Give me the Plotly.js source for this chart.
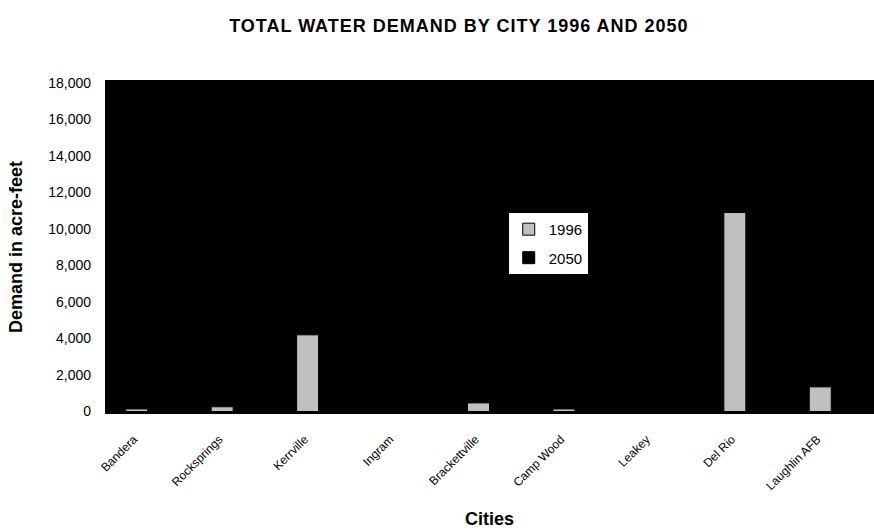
<!DOCTYPE html>
<html>
<head>
<meta charset="utf-8">
<script src="https://cdn.plot.ly/plotly-3.0.1.min.js"></script>
<style>
  html, body { margin: 0; padding: 0; background: #ffffff; }
  #chart { width: 874px; height: 531px; }
  /* slightly tracked-out main title */
  #chart .gtitle { letter-spacing: 1px; }
</style>
</head>
<body>
<div id="chart"></div>
<script>
// Cities along the x axis
var cities = ['Bandera', 'Rocksprings', 'Kerrville', 'Ingram', 'Brackettville',
              'Camp Wood', 'Leakey', 'Del Rio', 'Laughlin AFB'];

// Total water demand, acre-feet
var demand1996 = [140, 260, 4200, 0, 470, 140, 0, 10900, 1350];
// 2050 series: black bars on the black plot area
var demand2050 = [null, null, null, null, null, null, null, null, null];

var seriesNames = ['1996', '2050'];
var yTickValues = [0, 2000, 4000, 6000, 8000, 10000, 12000, 14000, 16000, 18000];

var baseFont = 'Arial, "Liberation Sans", sans-serif';

var traces = [
  {
    type: 'bar',
    name: seriesNames[0],
    x: cities,
    y: demand1996,
    legendgroup: 'a',
    marker: { color: '#c0c0c0', line: { color: '#000000', width: 1 } },
    hoverinfo: 'x+y'
  },
  {
    type: 'bar',
    name: seriesNames[1],
    x: cities,
    y: demand2050,
    legendgroup: 'b',
    marker: { color: '#000000', line: { color: '#000000', width: 1 } },
    hoverinfo: 'x+y'
  }
];

var layout = {
  width: 874,
  height: 531,
  paper_bgcolor: '#ffffff',
  plot_bgcolor: '#000000',
  margin: { l: 105, r: 0, t: 80, b: 117, pad: 0 },
  barmode: 'group',
  bargap: 0.485,
  bargroupgap: 0,
  font: { family: baseFont, color: '#000000', size: 14 },
  title: {
    text: '<b>TOTAL WATER DEMAND BY CITY 1996 AND 2050</b>',
    font: { family: baseFont, size: 18, color: '#000000' },
    x: 0.525, xanchor: 'center',
    y: 0.952, yanchor: 'middle'
  },
  xaxis: {
    type: 'category',
    tickangle: -45,
    tickfont: { family: baseFont, size: 12, color: '#000000' },
    ticklabelstandoff: 15,
    ticklabelshift: -14,
    ticks: '',
    showline: false,
    showgrid: false,
    zeroline: false,
    title: {
      text: '<b>Cities</b>',
      font: { family: baseFont, size: 18, color: '#000000' },
      standoff: 20
    }
  },
  yaxis: {
    range: [-137, 18164],
    tickvals: yTickValues,
    tickformat: ',d',
    tickfont: { family: baseFont, size: 14, color: '#000000' },
    ticks: '',
    ticklabelstandoff: 13,
    showline: false,
    showgrid: false,
    zeroline: false,
    title: {
      text: '<b>Demand in acre-feet</b>',
      font: { family: baseFont, size: 18, color: '#000000' },
      standoff: 20
    }
  },
  showlegend: true,
  legend: {
    x: 0.525, xanchor: 'left',
    y: 0.602, yanchor: 'top',
    bgcolor: '#ffffff',
    borderwidth: 0,
    font: { family: baseFont, size: 15, color: '#000000' },
    traceorder: 'grouped',
    tracegroupgap: 6,
    itemwidth: 30
  }
};

Plotly.newPlot('chart', traces, layout, { displayModeBar: false, staticPlot: true });
</script>
</body>
</html>
